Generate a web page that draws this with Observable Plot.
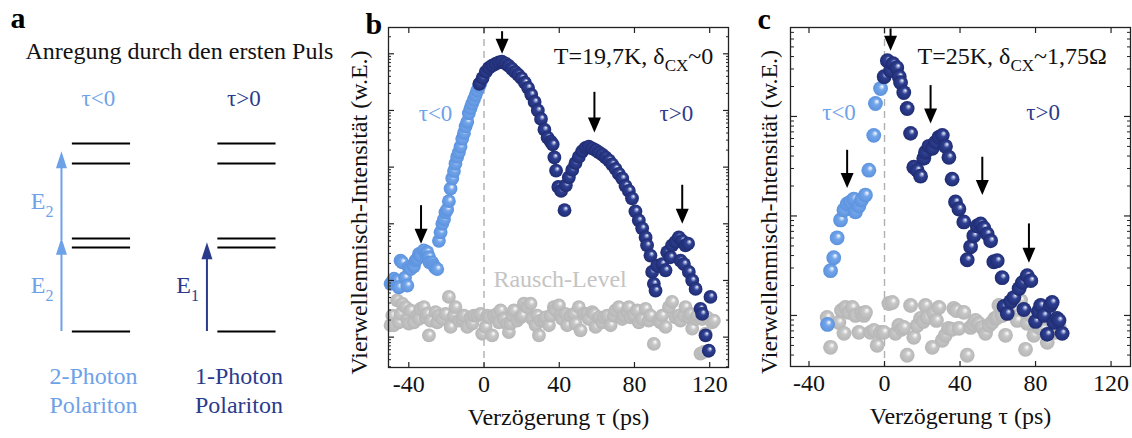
<!DOCTYPE html>
<html><head><meta charset="utf-8">
<script src="https://cdn.jsdelivr.net/npm/d3@7"></script>
<script src="https://cdn.jsdelivr.net/npm/@observablehq/plot@0.6"></script>
<style>
html,body{margin:0;padding:0;background:#fff;}
#fig{position:relative;width:1132px;height:438px;overflow:hidden;}
#fig > svg{position:absolute;top:0;overflow:visible;}
#fig svg, #fig svg text{font-family:"Liberation Serif","Times New Roman",Times,serif !important;}
</style></head>
<body>
<svg width="0" height="0" style="position:absolute">
<defs>
<radialGradient id="gDark" cx="0.5" cy="0.5" r="0.5" fx="0.62" fy="0.34">
<stop offset="0" stop-color="#ffffff"/><stop offset="0.14" stop-color="#aab4dc"/><stop offset="0.4" stop-color="#2f4092"/><stop offset="1" stop-color="#1f2c72"/>
</radialGradient>
<radialGradient id="gLight" cx="0.5" cy="0.5" r="0.5" fx="0.62" fy="0.34">
<stop offset="0" stop-color="#ffffff"/><stop offset="0.14" stop-color="#cfe0f8"/><stop offset="0.4" stop-color="#72a5ea"/><stop offset="1" stop-color="#5c92de"/>
</radialGradient>
<radialGradient id="gGray" cx="0.5" cy="0.5" r="0.5" fx="0.62" fy="0.34">
<stop offset="0" stop-color="#ffffff"/><stop offset="0.14" stop-color="#ececec"/><stop offset="0.4" stop-color="#c6c6c6"/><stop offset="1" stop-color="#b6b6b6"/>
</radialGradient>
</defs></svg>
<div id="fig"></div>
<script>
// ---------------- DATA ----------------
// Panel a: energy-level scheme
const levelsE = [0, 1.0, 1.107, 2.0, 2.238];
const columns = [0, 1];
const columnTitle = ["τ<0", "τ>0"];
const photonLine1 = ["2-Photon", "1-Photon"];
const photonLine2 = ["Polariton", "Polariton"];
const transCol = [0, 0, 1];
const transFrom = [0, 1.083, 0];
const transTo = [1.115, 2.146, 1.063];
const transLabel = ["E2", "E2", "E1"];
const transLabelE = [0.464, 1.464, 0.464];

// Panel b (T=19,7K): delay tau (ps) and log10 of FWM intensity
const bLightTau = [-49.7,-48.8,-47.9,-46.2,-45.3,-44.4,-43.5,-42.0,-40.8,-40.0,-39.1,-37.3,-36.4,-35.5,-34.6,-33.8,-32.0,-31.1,-30.2,-29.3,-29.0,-27.6,-26.7,-25.8,-24.9,-24.0,-23.1,-22.2,-21.3,-20.5,-19.6,-18.7,-17.8,-16.9,-16.0,-15.2,-14.3,-13.4,-12.5,-11.6,-10.7,-9.8,-8.9,-8.1,-7.2,-6.3,-5.4,-4.5,-3.6,-2.7,-1.9];
const bLightLog = [0.94,0.97,1.03,1.00,0.88,1.35,1.32,1.05,0.91,1.23,1.20,1.25,1.35,1.38,1.47,1.44,1.53,1.47,1.50,1.41,1.32,1.32,1.26,1.22,1.20,1.70,1.85,2.00,2.08,2.20,2.25,2.40,2.62,2.80,2.93,3.06,3.18,3.26,3.36,3.50,3.60,3.72,3.80,3.95,4.04,4.12,4.19,4.27,4.35,4.42,4.48];
const bDarkTau = [-2.5,-0.8,0.9,2.6,4.3,6.1,7.8,9.5,11.3,13.0,14.7,16.5,18.2,19.9,21.7,23.4,25.1,26.9,28.6,30.3,32.1,33.8,35.5,36.5,37.4,38.3,39.5,42.8,41.0,43.5,45.1,46.9,48.6,50.4,52.2,54.0,55.7,57.5,59.3,61.1,62.9,64.6,66.4,68.1,69.9,71.7,73.5,75.2,77.0,78.7,80.5,82.3,84.1,85.9,86.7,88.5,89.4,90.3,91.2,92.1,94.7,96.5,97.4,99.1,100.0,101.8,103.6,105.4,107.1,108.5,104.5,106.3,108.9,110.7,112.5,115.1,116.0,120.4,117.8,119.5];
const bDarkLog = [4.47,4.57,4.68,4.75,4.79,4.82,4.85,4.86,4.83,4.79,4.74,4.68,4.63,4.57,4.49,4.40,4.28,4.15,4.00,3.85,3.66,3.52,3.45,3.40,3.17,2.94,2.65,2.24,2.58,2.68,2.82,2.95,3.07,3.18,3.28,3.34,3.36,3.33,3.30,3.26,3.22,3.17,3.12,3.05,2.97,2.88,2.80,2.67,2.58,2.45,2.22,2.06,1.92,1.76,1.62,1.44,1.15,0.94,0.82,1.26,1.29,1.18,1.50,1.41,1.62,1.68,1.76,1.70,1.62,1.65,1.35,1.29,1.15,1.00,0.85,0.50,0.41,0.71,0.03,-0.24];
const bGrayTau = [-49.7,-48.8,-47.9,-46.2,-45.3,-44.4,-43.5,-41.7,-40.8,-40.0,-39.1,-37.3,-35.5,-34.6,-33.8,-32.0,-31.1,-30.2,-29.3,-28.4,-25.8,-24.9,-24.0,-22.2,-20.5,-18.7,-17.8,-16.0,-15.2,-13.4,-11.6,-10.7,-8.9,-7.2,-6.3,-5.4,-3.6,-1.9,-1.0,0.8,1.7,2.6,4.3,5.2,7.0,7.9,8.8,10.5,12.3,13.2,14.1,15.0,15.9,17.6,19.4,20.3,21.2,22.9,24.7,25.6,27.4,28.3,29.2,30.0,31.8,32.7,34.5,35.4,37.1,38.0,39.8,40.7,41.5,43.3,44.2,46.0,47.8,48.6,50.4,51.3,53.1,54.8,55.7,57.5,58.4,59.3,61.1,62.8,63.7,65.5,67.3,69.0,69.9,71.7,73.5,74.3,76.1,77.0,77.9,79.7,81.4,82.3,84.1,85.9,87.6,88.5,90.3,92.9,93.8,94.7,96.5,98.3,100.0,101.8,103.6,104.5,106.3,107.1,108.9,109.8,110.7,112.5,113.3,115.1,116.0,116.9,117.8,118.6,121.3,122.2];
const bGrayLog = [0.21,0.38,0.21,0.65,0.26,0.41,0.59,0.53,0.32,0.24,0.47,0.26,0.38,0.32,0.50,0.53,0.35,0.41,0.03,0.29,0.44,0.26,0.38,0.32,0.41,0.71,0.18,0.38,0.53,0.29,0.32,0.38,0.18,0.35,0.24,0.38,0.38,0.41,0.06,0.18,0.38,0.35,0.03,0.38,0.41,0.26,0.47,0.32,0.24,0.09,0.24,0.38,0.47,0.29,0.35,0.38,0.59,0.53,0.59,0.32,0.21,0.38,0.03,0.29,0.29,0.35,0.21,0.38,0.53,0.47,0.56,0.38,0.32,0.41,0.21,0.38,0.41,0.24,0.53,0.12,0.41,0.41,0.32,0.44,0.41,0.18,0.35,0.26,0.35,0.38,0.21,0.38,0.47,0.53,0.32,0.38,0.44,0.53,0.35,0.38,0.47,0.26,0.32,0.50,0.29,0.38,-0.12,0.29,0.26,0.38,0.18,0.53,0.62,0.35,0.38,0.29,0.38,0.53,0.35,0.41,0.15,0.32,0.38,-0.29,0.32,-0.26,0.06,0.35,0.26,0.29];

// Panel c (T=25K)
const cLightTau = [-30.2,-28.6,-26.9,-25.1,-23.3,-21.5,-19.8,-18.0,-16.2,-15.4,-13.6,-12.2,-10.1,-8.3,-5.7,-4.8,-2.1];
const cLightLog = [-0.09,0.45,0.58,0.78,0.96,1.06,1.12,1.14,1.17,1.04,1.10,1.16,1.21,1.46,1.81,2.13,2.28];
const cDarkTau = [-0.2,1.5,3.2,4.5,6.5,7.8,8.5,10.2,12.0,13.8,15.5,17.3,19.1,20.8,21.7,23.5,25.3,27.0,28.8,30.6,32.3,34.1,35.8,37.6,39.4,42.0,43.8,45.6,47.3,49.1,50.9,52.6,54.4,56.2,57.9,59.7,62.3,63.3,65.0,66.8,68.5,71.3,73.0,73.8,75.6,77.5,80.0,81.5,82.7,84.4,86.2,87.9,88.8,89.7,91.4,92.4,94.1];
const cDarkLog = [2.40,2.56,2.46,2.53,2.49,2.40,2.34,2.24,2.08,1.83,1.49,1.46,1.40,1.58,1.64,1.70,1.68,1.74,1.79,1.81,1.70,1.59,1.37,1.14,1.07,0.94,0.56,0.69,0.80,0.90,0.92,0.88,0.82,0.75,0.54,0.55,0.38,0.09,0.02,0.14,0.18,0.27,0.33,0.06,0.40,0.35,-0.06,0.04,0.10,0.00,-0.19,0.10,0.13,-0.07,-0.03,-0.05,-0.18];
const cGrayTau = [-30.4,-28.6,-24.2,-22.8,-21.5,-20.7,-18.9,-17.1,-15.4,-13.6,-12.2,-10.9,-10.1,-7.4,-5.6,-3.9,-2.1,-0.4,2.3,4.1,5.8,7.6,9.0,10.2,12.0,13.8,15.5,17.3,19.1,20.5,21.7,22.6,25.3,26.1,27.5,28.8,30.6,32.2,33.9,35.8,36.7,38.0,39.4,42.0,43.8,45.6,47.0,48.2,49.9,51.7,53.5,55.3,57.0,58.5,59.7,60.6,62.4,64.1,65.9,68.5,70.3,72.1,74.7,75.6,77.5,79.1,81.8,84.0,86.2,87.1,90.6,92.5];
const cGrayLog = [-0.02,-0.32,-0.07,0.05,-0.18,0.08,0.03,0.08,0.00,-0.17,0.02,0.00,0.03,-0.17,-0.15,-0.30,-0.17,-0.17,0.12,0.13,-0.18,-0.10,-0.14,-0.12,-0.40,0.10,-0.22,-0.10,-0.03,-0.06,0.10,-0.02,-0.32,0.02,-0.05,0.08,-0.25,-0.20,-0.13,-0.14,0.07,0.05,-0.13,0.03,-0.40,-0.12,-0.09,-0.05,-0.08,-0.12,-0.18,-0.10,-0.07,-0.03,-0.02,0.10,0.00,-0.20,0.03,0.15,-0.05,0.15,-0.34,-0.08,0.00,-0.20,-0.12,-0.14,-0.27,0.02,-0.17,-0.12];

// Arrows (tau, log10 of shaft top, log10 of tip)
const bArrowTau = [-33.5, 9.6, 58.7, 105.4];
const bArrowTop = [2.32, 5.39, 4.32, 2.68];
const bArrowTip = [1.65, 5.0, 3.61, 2.0];
const cArrowTau = [-19.8, 3.2, 24.4, 51.8, 76.5];
const cArrowTop = [1.66, 2.88, 2.31, 1.59, 0.92];
const cArrowTip = [1.28, 2.66, 1.93, 1.21, 0.53];

const xTicks = [-40, 0, 40, 80, 120];

// ---------------- STYLE ----------------
const FONT = '"Liberation Serif","Times New Roman",Times,serif';
const DARK = "#2b3b8c", LIGHT = "#6ea2e8", GRAYT = "#c4c4c4", INK = "#111";

const headDown = (w, h) => ({draw(ctx) { ctx.moveTo(0, 0); ctx.lineTo(-w / 2, -h); ctx.lineTo(w / 2, -h); ctx.closePath(); }});
const headUp = (w, h) => ({draw(ctx) { ctx.moveTo(0, 0); ctx.lineTo(-w / 2, h); ctx.lineTo(w / 2, h); ctx.closePath(); }});

function logTicks(lo, hi, minor) {
  const out = [];
  for (let k = Math.floor(lo) - 1; k <= Math.ceil(hi); k++)
    for (const m of (minor ? [2,3,4,5,6,7,8,9] : [1])) {
      const v = m * 10 ** k, l = Math.log10(v);
      if (l > lo + 0.01 && l < hi - 0.01) out.push(v);
    }
  return out;
}
const pts = (tau, lg) => tau.map((t, i) => ({t, v: 10 ** lg[i]}));
const arrowData = (tau, top, tip) => tau.map((t, i) => ({t, a: 10 ** top[i], b: 10 ** tip[i]}));

function dataPanel(o) {
  const [lo, hi] = o.logDomain;
  const arr = arrowData(o.arrowTau, o.arrowTop, o.arrowTip);
  return Plot.plot({
    width: o.width, height: 438,
    marginLeft: o.ml, marginRight: o.mr, marginTop: 27, marginBottom: o.mb,
    x: {domain: o.xDomain},
    y: {type: "log", domain: [10 ** lo, 10 ** hi]},
    style: {fontFamily: FONT, fontSize: "24px", color: INK, background: "transparent"},
    marks: [
      Plot.ruleX([0], {stroke: "#b0b0b0", strokeWidth: 1.4, strokeDasharray: "7,5"}),
      Plot.dot(pts(o.grayTau, o.grayLog), {x: "t", y: "v", r: o.r, fill: "url(#gGray)", stroke: "none"}),
      Plot.dot(pts(o.lightTau, o.lightLog), {x: "t", y: "v", r: o.r, fill: "url(#gLight)", stroke: "none"}),
      Plot.dot(pts(o.darkTau, o.darkLog), {x: "t", y: "v", r: o.r, fill: "url(#gDark)", stroke: "none"}),
      Plot.ruleX(arr, {x: "t", y1: "a", y2: "b", stroke: "#000", strokeWidth: 2, insetBottom: 10}),
      Plot.dot(arr, {x: "t", y: "b", r: 5, symbol: headDown(13, 15), fill: "#000", stroke: "none"}),
      ...o.texts,
      Plot.axisX(xTicks, {anchor: "bottom", tickSize: -5, fill: "none", stroke: "#222", strokeWidth: 1.2}),
      Plot.axisX(xTicks, {anchor: "top", tickSize: -5, fill: "none", stroke: "#222", strokeWidth: 1.2}),
      Plot.axisX(xTicks, {anchor: "bottom", tickSize: 0, tickPadding: 7, tickFormat: d => String(d), fontSize: 24, fontFamily: FONT, label: null, fill: INK}),
      Plot.axisY(logTicks(lo, hi, false), {anchor: "left", tickSize: -o.major, fill: "none", stroke: "#222", strokeWidth: 1.2}),
      Plot.axisY(logTicks(lo, hi, true), {anchor: "left", tickSize: -o.minor, fill: "none", stroke: "#222", strokeWidth: 1}),
      Plot.axisY(logTicks(lo, hi, false), {anchor: "right", tickSize: -o.major, fill: "none", stroke: "#222", strokeWidth: 1.2}),
      Plot.axisY(logTicks(lo, hi, true), {anchor: "right", tickSize: -o.minor, fill: "none", stroke: "#222", strokeWidth: 1}),
      Plot.frame({stroke: "#222", strokeWidth: 1.3}),
      Plot.text(["Verzögerung τ (ps)"], {frameAnchor: "bottom", dy: 57, lineAnchor: "bottom", fontSize: 24, fontFamily: FONT, fill: INK}),
      Plot.text(["Vierwellenmisch-Intensität (w.E.)"], {frameAnchor: "left", rotate: -90, dx: o.ylabDx, dy: 15, lineAnchor: "bottom", textAnchor: "middle", fontSize: 24, fontFamily: FONT, fill: INK}),
      Plot.text([o.letter], {frameAnchor: "top-left", dx: o.letterDx, dy: o.letterDy, lineAnchor: "bottom", textAnchor: "start", fontSize: 30, fontWeight: "bold", fontFamily: FONT, fill: "#000"})
    ]
  });
}

const lbl = (s, t, lg, opts) => Plot.text([s], {x: () => t, y: () => 10 ** lg, lineAnchor: "bottom", fontSize: 24, fontFamily: FONT, ...opts});

const plotB = dataPanel({
  width: 400, ml: 48, mr: 12, mb: 71, xDomain: [-50.8, 130], logDomain: [-0.536, 5.464], r: 6.9,
  grayTau: bGrayTau, grayLog: bGrayLog, lightTau: bLightTau, lightLog: bLightLog, darkTau: bDarkTau, darkLog: bDarkLog,
  arrowTau: bArrowTau, arrowTop: bArrowTop, arrowTip: bArrowTip, major: 6, minor: 3,
  ylabDx: -22, letter: "b", letterDx: -23, letterDy: 6,
  texts: [
    lbl("τ<0", -25.8, 3.82, {textAnchor: "middle", fill: LIGHT, fontSize: 23}),
    lbl("τ>0", 102.3, 3.82, {textAnchor: "middle", fill: DARK, fontSize: 23}),
    lbl("Rausch-Level", 5.0, 0.877, {textAnchor: "start", fill: GRAYT}),
    lbl("T=19,7K, δCX~0", 37.1, 4.82, {textAnchor: "start", fill: INK})
  ]
});
const plotC = dataPanel({
  width: 392, ml: 50, mr: 2, mb: 72, xDomain: [-49.8, 130.3], logDomain: [-0.513, 2.894], r: 7.4,
  grayTau: cGrayTau, grayLog: cGrayLog, lightTau: cLightTau, lightLog: cLightLog, darkTau: cDarkTau, darkLog: cDarkLog,
  arrowTau: cArrowTau, arrowTop: cArrowTop, arrowTip: cArrowTip, major: 7, minor: 4,
  ylabDx: -14, letter: "c", letterDx: -33, letterDy: 1,
  texts: [
    lbl("τ<0", -24.1, 1.96, {textAnchor: "middle", fill: LIGHT, fontSize: 23}),
    lbl("τ>0", 84.0, 1.96, {textAnchor: "middle", fill: DARK, fontSize: 23}),
    lbl("T=25K, δCX~1,75Ω", 17.5, 2.53, {textAnchor: "start", fill: INK})
  ]
});

// Panel a
const levelData = columns.flatMap(c => levelsE.map(e => ({c, e})));
const transData = transCol.map((c, i) => ({c, from: transFrom[i], to: transTo[i], label: transLabel[i], le: transLabelE[i]}));
const colData = columns.map((c, i) => ({c, title: columnTitle[i], l1: photonLine1[i], l2: photonLine2[i]}));
const colColor = d => d.c === 0 ? LIGHT : DARK;
const ARROW_OFF = -0.275, HALF = 0.2;
const plotA = Plot.plot({
  width: 340, height: 438, marginLeft: 0, marginRight: 0, marginTop: 0, marginBottom: 107,
  x: {domain: [-0.694, 1.643], axis: null},
  y: {domain: [0, 3.94], axis: null},
  style: {fontFamily: FONT, fontSize: "24px", color: INK, background: "transparent"},
  marks: [
    Plot.ruleY(levelData, {y: "e", x1: d => d.c - HALF, x2: d => d.c + HALF, stroke: "#000", strokeWidth: 2.2}),
    Plot.ruleX(transData, {x: d => d.c + ARROW_OFF, y1: "to", y2: "from", stroke: colColor, strokeWidth: 2, insetTop: 12}),
    Plot.dot(transData, {x: d => d.c + ARROW_OFF, y: "to", r: 5, symbol: headUp(11, 17), fill: colColor, stroke: "none"}),
    Plot.text(transData, {x: d => d.c + ARROW_OFF, y: "le", text: "label", dx: -8, textAnchor: "end", lineAnchor: "bottom", fill: colColor, fontSize: 24, fontFamily: FONT}),
    Plot.text(colData, {x: "c", y: () => 2.69, text: "title", dx: -3, lineAnchor: "bottom", fill: colColor, fontSize: 23, fontFamily: FONT}),
    Plot.text(colData, {x: "c", y: () => -0.619, text: "l1", dx: -8, lineAnchor: "bottom", fill: colColor, fontSize: 24, fontFamily: FONT}),
    Plot.text(colData, {x: "c", y: () => -0.976, text: "l2", dx: -8, lineAnchor: "bottom", fill: colColor, fontSize: 24, fontFamily: FONT}),
    Plot.text(["Anregung durch den ersten Puls"], {frameAnchor: "top-left", dx: 25, dy: 58, lineAnchor: "bottom", textAnchor: "start", fontSize: 24, fontFamily: FONT, fill: INK}),
    Plot.text(["a"], {frameAnchor: "top-left", dx: 10, dy: 27, lineAnchor: "bottom", textAnchor: "start", fontSize: 30, fontWeight: "bold", fontFamily: FONT, fill: "#000"})
  ]
});

// subscripts: rewrite text content into tspans (still real text)
const SUBS = {
  "T=19,7K, δCX~0": [["T=19,7K, δ"], ["CX", "17px", "7"], ["~0", null, "-7"]],
  "T=25K, δCX~1,75Ω": [["T=25K, δ"], ["CX", "17px", "7"], ["~1,75Ω", null, "-7"]],
  "E2": [["E"], ["2", "16px", "8"]],
  "E1": [["E"], ["1", "16px", "8"]]
};
function applySubs(svg) {
  svg.querySelectorAll("text").forEach(t => {
    const parts = SUBS[t.textContent];
    if (!parts || t.children.length) return;
    t.textContent = "";
    for (const [s, fs, dy] of parts) {
      const ts = document.createElementNS("http://www.w3.org/2000/svg", "tspan");
      ts.textContent = s;
      if (fs) ts.setAttribute("font-size", fs);
      if (dy) ts.setAttribute("dy", dy);
      t.appendChild(ts);
    }
  });
}

const fig = document.getElementById("fig");
[[plotA, 0], [plotB, 340], [plotC, 740]].forEach(([p, left]) => {
  p.style.left = left + "px";
  applySubs(p);
  fig.appendChild(p);
});
</script>
</body></html>
